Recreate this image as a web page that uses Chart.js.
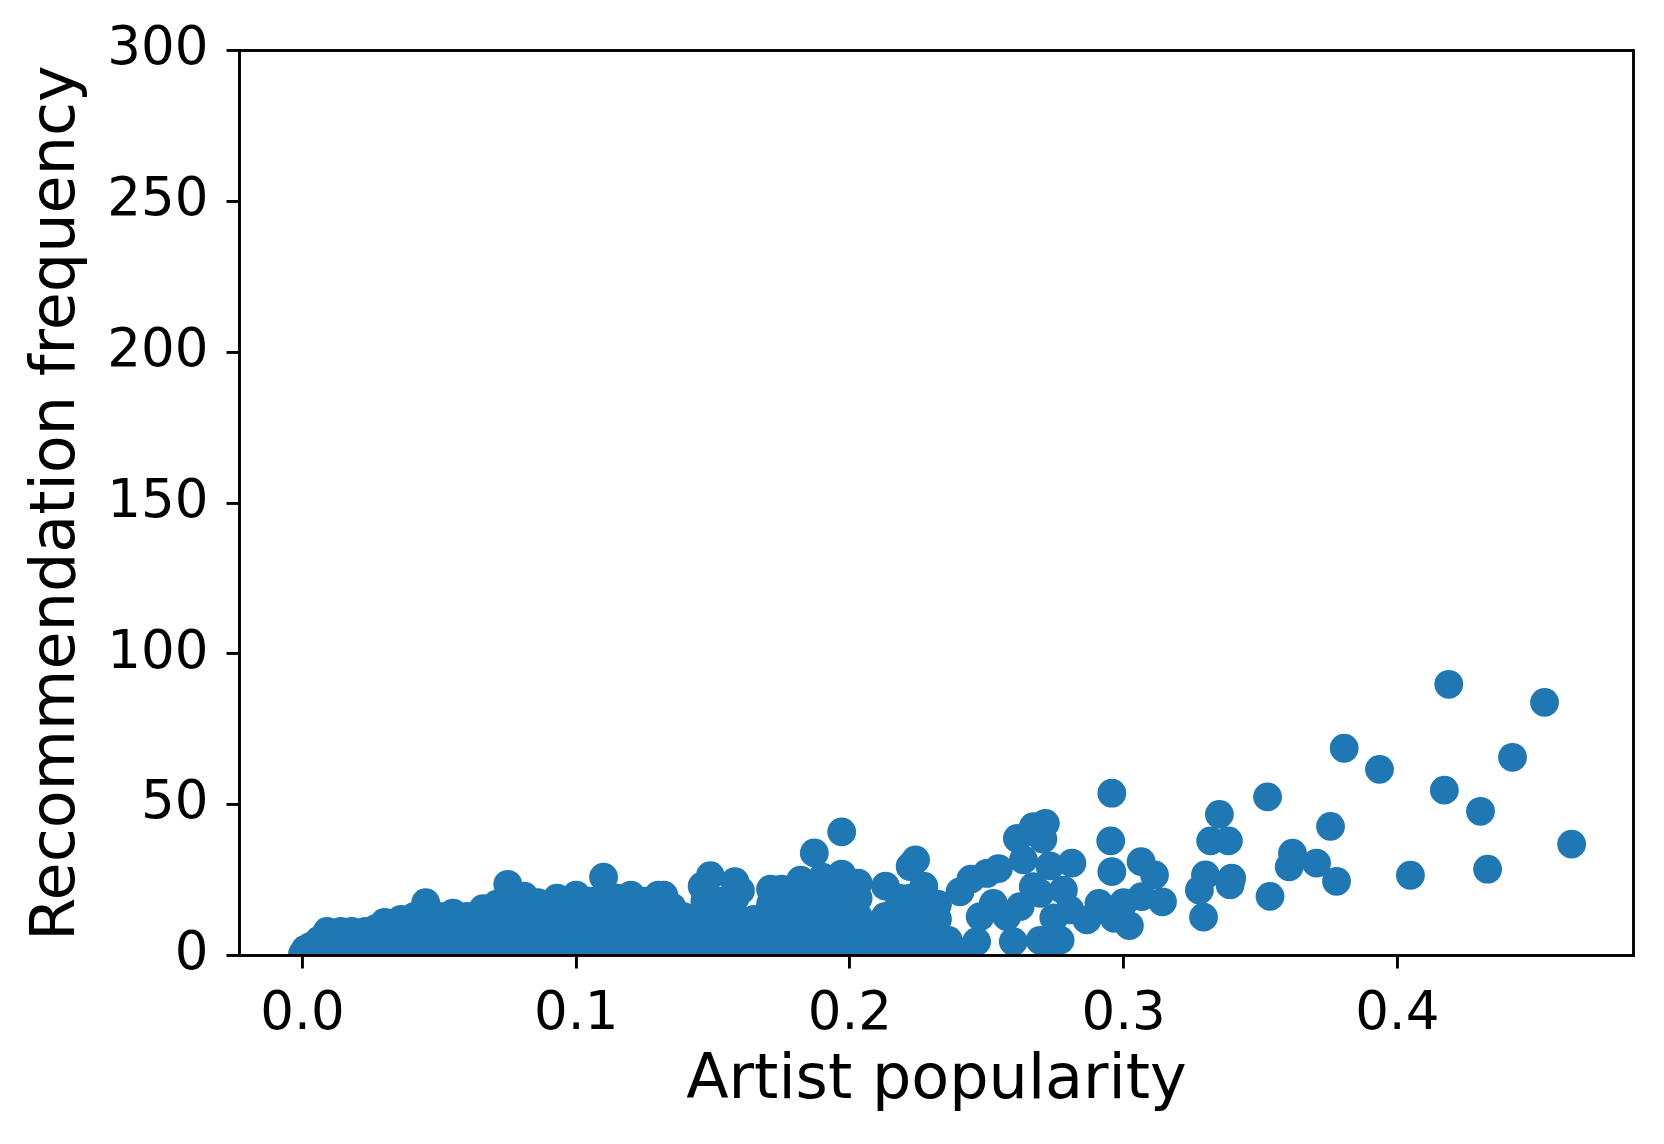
<!DOCTYPE html>
<html><head><meta charset="utf-8">
<script src="https://cdn.jsdelivr.net/npm/chart.js@4.4.1/dist/chart.umd.min.js"></script>
<style>html,body{margin:0;padding:0;background:#fff;}canvas{display:block;}</style>
</head><body>
<canvas id="c" width="1664" height="1144" style="width:1664px;height:1144px"></canvas>
<script>
// Tick labels
const xTickValues = [0.0, 0.1, 0.2, 0.3, 0.4];
const yTickValues = [0, 50, 100, 150, 200, 250, 300];
const xAxisTitle = 'Artist popularity';
const yAxisTitle = 'Recommendation frequency';

// [artist popularity, recommendation frequency]
const denseCluster = [
  [0.000,0.5],[0.001,2],
  [0.003,1],[0.003,3],
  [0.006,1],[0.006,5],
  [0.009,1],[0.009,4],[0.009,8],
  [0.013,1],[0.013,4],[0.014,8],
  [0.018,1],[0.018,4],[0.018,8],
  [0.023,1],[0.023,4],[0.023,8],
  [0.027,1],[0.027,5],[0.027,9],
  [0.030,1],[0.030,6],[0.030,11],
  [0.036,1],[0.036,6],[0.036,12],
  [0.041,1],[0.041,7],[0.041,13],
  [0.045,1],[0.045,7],[0.045,12],[0.045,17.5],
  [0.050,1],[0.050,7],[0.050,13],
  [0.055,1],[0.055,7],[0.055,14],
  [0.060,1],[0.060,7],[0.060,13],
  [0.066,1],[0.066,7],[0.066,12],[0.066,15.5],
  [0.071,1],[0.071,7],[0.071,13],[0.071,17],
  [0.075,1],[0.075,7],[0.075,13],[0.076,18],[0.075,23.6],
  [0.081,1],[0.081,7],[0.081,13],[0.081,19.7],
  [0.086,1],[0.086,7],[0.086,13],[0.086,17.5],
  [0.093,1],[0.093,7],[0.093,13],[0.093,19],
  [0.100,1],[0.100,7],[0.100,13],[0.100,20],
  [0.105,1],[0.105,7],[0.105,13],[0.105,18],
  [0.110,1],[0.110,7],[0.110,13],[0.110,19],[0.110,26],
  [0.115,1],[0.115,7],[0.115,13],[0.115,19],
  [0.120,1],[0.120,7],[0.120,13],[0.120,20],
  [0.125,1],[0.125,7],[0.125,13],[0.125,18],
  [0.130,1],[0.130,7],[0.130,13],[0.130,20],[0.132,20],
  [0.136,1],[0.136,7],[0.136,13],[0.135,16],
  [0.140,1],[0.140,7],[0.139,13],
  [0.143,1],[0.143,7],[0.143,11],
  [0.147,1],[0.147,7],[0.147,13],[0.147,18],[0.146,23],[0.149,26.5],
  [0.153,1],[0.153,7],[0.153,13],[0.153,18],
  [0.158,1],[0.158,7],[0.158,13],[0.158,19],[0.158,24.5],[0.160,21.5],
  [0.165,1],[0.165,7],[0.165,12],
  [0.171,1],[0.171,7],[0.171,13],[0.171,17],[0.171,22],
  [0.176,1],[0.176,7],[0.176,13],[0.176,18],[0.175,22],
  [0.182,1],[0.182,7],[0.182,13],[0.182,19],[0.182,25],
  [0.187,1],[0.187,7],[0.187,13],[0.187,19],[0.187,34],
  [0.190,26],
  [0.193,1],[0.193,7],[0.193,13],[0.193,19],
  [0.197,27],[0.197,41],
  [0.199,1],[0.199,7],[0.199,13],[0.199,19],
  [0.203,1],[0.203,7],[0.203,13],[0.203,19],[0.203,24],
  [0.208,1],[0.208,7],
  [0.213,1],[0.213,7],[0.213,13],[0.213,23],
  [0.218,1],[0.218,7],[0.218,13],[0.218,19],
  [0.222,1],[0.222,7],[0.222,13],[0.222,19],[0.222,29.5],[0.224,31.7],
  [0.227,1],[0.227,7],[0.227,13],[0.227,18],[0.227,23],
  [0.232,1],[0.232,7],[0.232,12],[0.232,17],
  [0.236,1],[0.236,5],
  [0.240,1]
];

const spreadPoints = [
  [0.2402,21.1],[0.2442,25.3],[0.2500,27.2],[0.2543,28.8],
  [0.2463,4.6],[0.2476,12.9],[0.2524,17.3],[0.2573,12.9],
  [0.2622,16.2],[0.2597,4.6],[0.2634,31.7],[0.2612,38.8],
  [0.2670,42.7],[0.2705,38.6],[0.2714,43.8],[0.2670,22.8],
  [0.2695,20.6],[0.2695,5.0],[0.2732,4.0],[0.2768,5.1],
  [0.2745,12.5],[0.2731,29.7],[0.2780,21.7],[0.2811,30.6],
  [0.2804,15.1],[0.2866,11.8],[0.2910,17.3]
];

const outliers = [
  [0.2957,53.8],[0.3526,52.6],[0.3935,61.7],[0.3806,68.7],
  [0.3350,46.8],[0.2953,38.0],[0.3318,38.0],[0.3383,38.0],
  [0.3756,42.8],[0.3617,33.9],[0.3605,29.4],[0.3705,30.6],
  [0.3778,24.6],[0.4048,26.6],[0.3535,19.6],[0.3292,12.7],
  [0.3299,26.7],[0.3277,21.7],[0.3395,25.6],[0.3389,23.4],
  [0.3064,31.1],[0.3113,26.7],[0.2957,27.8],[0.3142,17.8],
  [0.3021,9.9],[0.2966,12.3],[0.3066,19.5],[0.3000,17.5],
  [0.4188,89.9],[0.4538,83.9],[0.4421,65.7],[0.4172,54.8],
  [0.4304,47.8],[0.4637,36.9],[0.4330,28.6]
];

const points = denseCluster.concat(spreadPoints, outliers).map(p => ({x: p[0], y: p[1]}));

const FONT = 'DejaVu Sans';

const framePlugin = {
  id: 'frame',
  afterDatasetsDraw(chart) {
    const {ctx, chartArea: a} = chart;
    ctx.save();
    ctx.strokeStyle = '#000';
    ctx.lineWidth = 2.9;
    ctx.strokeRect(a.left, a.top, a.right - a.left, a.bottom - a.top);
    ctx.restore();
  }
};

new Chart(document.getElementById('c').getContext('2d'), {
  type: 'scatter',
  data: {
    datasets: [{
      data: points,
      backgroundColor: '#1f77b4',
      borderWidth: 0,
      pointBorderWidth: 0,
      pointRadius: 14.4,
      pointHoverRadius: 14.4,
      clip: 0
    }]
  },
  options: {
    responsive: false,
    animation: false,
    devicePixelRatio: 1,
    events: [],
    layout: {padding: {left: 0, top: 50.5, right: 30.5, bottom: 0}},
    plugins: {legend: {display: false}, tooltip: {enabled: false}},
    scales: {
      x: {
        type: 'linear',
        min: -0.02302,
        max: 0.4863,
        afterBuildTicks: s => { s.ticks = xTickValues.map(v => ({value: v})); },
        afterFit: s => { s.height = 188.5; },
        grid: {display: true, drawOnChartArea: false, drawTicks: true, tickLength: 13, color: '#000', lineWidth: 2.9},
        border: {display: false},
        ticks: {font: {family: FONT, size: 53, lineHeight: 1}, color: '#000', padding: 20, maxRotation: 0, autoSkip: false,
                callback: v => Number(v).toFixed(1)},
        title: {display: true, text: xAxisTitle, color: '#000', font: {family: FONT, size: 62, lineHeight: 1}, padding: {top: 0, bottom: 31}}
      },
      y: {
        type: 'linear',
        min: 0,
        max: 300,
        afterBuildTicks: s => { s.ticks = yTickValues.map(v => ({value: v})); },
        afterFit: s => { s.width = 239.5; },
        grid: {display: true, drawOnChartArea: false, drawTicks: true, tickLength: 13, color: '#000', lineWidth: 2.9},
        border: {display: false},
        ticks: {font: {family: FONT, size: 53, lineHeight: 1}, color: '#000', padding: 18, autoSkip: false,
                callback: v => String(v)},
        title: {display: true, text: yAxisTitle, color: '#000', font: {family: FONT, size: 62, lineHeight: 1}, padding: {top: 27, bottom: 0}}
      }
    }
  },
  plugins: [framePlugin]
});
</script>
</body></html>
